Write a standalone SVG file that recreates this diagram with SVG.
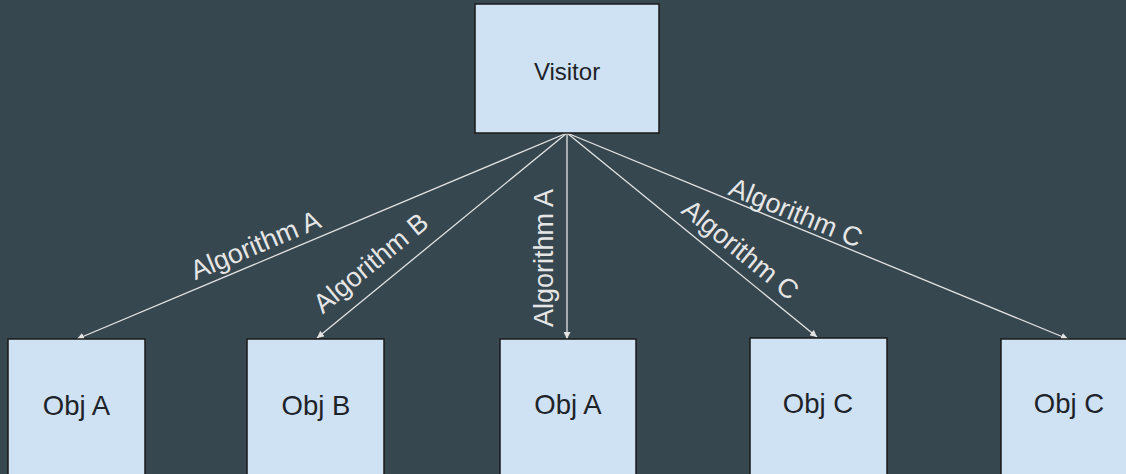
<svg xmlns="http://www.w3.org/2000/svg" width="1126" height="474" viewBox="0 0 1126 474">
<style>
.box{fill:#cfe2f3;stroke:#1a1a1a;stroke-width:1.5}
.nt{font-family:"Liberation Sans",Arial,sans-serif;fill:#1e2329;text-anchor:middle}
.edge{stroke:#e3e3e3;stroke-width:1.3;fill:none;marker-end:url(#ah)}
.lbl{font-family:"Liberation Sans",Arial,sans-serif;font-size:27px;fill:#e6e6e6;text-anchor:middle}
</style>
<defs>
<marker id="ah" viewBox="0 0 10 10" refX="10" refY="5" markerWidth="7" markerHeight="7" markerUnits="userSpaceOnUse" orient="auto">
<path d="M0,0 L10,5 L0,10 z" fill="#e3e3e3"/>
</marker>
</defs>
<rect width="1126" height="474" fill="#36474f"/>
<g id="connectors">
<line class="edge" x1="567" y1="133" x2="77" y2="339"/>
<line class="edge" x1="567" y1="133" x2="317" y2="338"/>
<line class="edge" x1="567" y1="133" x2="567" y2="339"/>
<line class="edge" x1="567" y1="133" x2="817" y2="337"/>
<line class="edge" x1="567" y1="133" x2="1068" y2="339"/>
<text class="lbl" transform="translate(259,253.5) rotate(-22.8)">Algorithm A</text>
<text class="lbl" transform="translate(376.5,270) rotate(-39.5)">Algorithm B</text>
<text class="lbl" transform="translate(553,258) rotate(-90)">Algorithm A</text>
<text class="lbl" transform="translate(734.7,256.7) rotate(39.1)">Algorithm C</text>
<text class="lbl" transform="translate(792.3,221) rotate(22.35)">Algorithm C</text>
</g>
<g id="visitor">
<rect class="box" x="475" y="4" width="184" height="129"/>
<text class="nt" x="567" y="80" font-size="24">Visitor</text>
</g>
<g id="objA1">
<rect class="box" x="8" y="339" width="137" height="150"/>
<text class="nt" x="76.5" y="415" font-size="27.5">Obj A</text>
</g>
<g id="objB">
<rect class="box" x="247" y="339" width="137" height="150"/>
<text class="nt" x="316" y="415" font-size="27.5">Obj B</text>
</g>
<g id="objA2">
<rect class="box" x="500" y="339" width="136" height="150"/>
<text class="nt" x="568" y="414" font-size="27.5">Obj A</text>
</g>
<g id="objC1">
<rect class="box" x="750" y="338" width="137" height="150"/>
<text class="nt" x="818" y="413" font-size="27.5">Obj C</text>
</g>
<g id="objC2">
<rect class="box" x="1001" y="339" width="137" height="150"/>
<text class="nt" x="1069" y="413" font-size="27.5">Obj C</text>
</g>
</svg>
